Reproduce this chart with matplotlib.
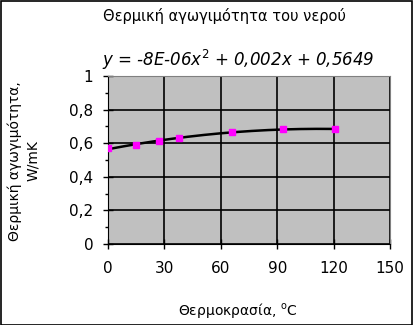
import numpy as np
import matplotlib
matplotlib.use("Agg")
import matplotlib.pyplot as plt
from matplotlib.patches import Rectangle
from matplotlib.ticker import MultipleLocator

# data
temps = [0, 15, 27, 38, 66, 93, 121]
conductivity = [0.569, 0.589, 0.615, 0.629, 0.669, 0.683, 0.683]
x_ticks = [0, 30, 60, 90, 120, 150]
y_ticks = [0, 0.2, 0.4, 0.6, 0.8, 1.0]
y_tick_labels = ["0", "0,2", "0,4", "0,6", "0,8", "1"]

plt.rcParams["font.family"] = ["DejaVu Sans"]

W, H = 413, 325
fig = plt.figure(figsize=(W / 100, H / 100), dpi=100)
ax = fig.add_axes([108 / W, 1 - 244 / H, (390 - 108) / W, (244 - 76) / H])

ax.set_facecolor("#C0C0C0")
ax.set_xlim(0, 150)
ax.set_ylim(0, 1)

# quadratic trendline fitted to the points
coef = np.polyfit(temps, conductivity, 2)
xs = np.linspace(min(temps), max(temps), 200)
ax.plot(xs, np.polyval(coef, xs), color="black", lw=1.8, zorder=3)
ax.plot(temps, conductivity, ls="none", marker="s", ms=4.2, color="#FF00FF",
        markeredgecolor="#FF00FF", zorder=4)

ax.set_xticks(x_ticks)
ax.set_yticks(y_ticks)
ax.set_yticklabels(y_tick_labels)
ax.yaxis.set_minor_locator(MultipleLocator(0.1))
ax.grid(True, which="major", color="black", lw=1.2)
ax.set_axisbelow(True)
ax.tick_params(which="major", direction="inout", length=7, width=1, labelsize=11, pad=7)
ax.tick_params(which="minor", direction="out", length=2.5, width=1)
ax.tick_params(axis="x", pad=9)

for side in ["top", "right"]:
    ax.spines[side].set_color("#808080")
for side in ["left", "bottom"]:
    ax.spines[side].set_color("black")

fig.text(238 / W, 1 - 310 / H, "Θερμοκρασία, $^{\\mathrm{o}}$C", ha="center", va="center", fontsize=10)
fig.text(24 / W, 1 - 161 / H, "Θερμική αγωγιμότητα,\nW/mK", ha="center", va="center",
         rotation=90, fontsize=10, linespacing=1.4, multialignment="center")

fig.text(224 / W, 1 - 16 / H, "Θερμική αγωγιμότητα του νερού", ha="center", va="center", fontsize=10.5)
fig.text(238 / W, 1 - 60 / H, "y = -8E-06x$^{2}$ + 0,002x + 0,5649", ha="center", va="center",
         fontsize=12, style="italic")

fig.patches.append(Rectangle((0.5 / W, 0.5 / H), 1 - 1.5 / W, 1 - 1.5 / H, transform=fig.transFigure,
                             fill=False, edgecolor="black", lw=1.2))

fig.savefig("out.png", dpi=100)
